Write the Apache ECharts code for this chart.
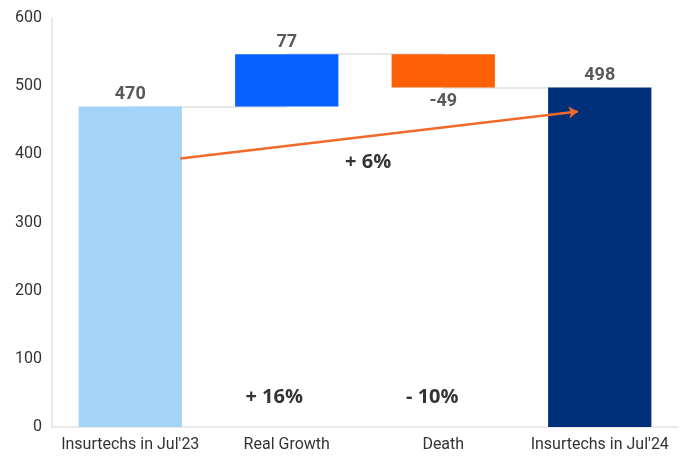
<!DOCTYPE html>
<html>
<head>
<meta charset="utf-8">
<script src="https://cdn.jsdelivr.net/npm/echarts@6/dist/echarts.min.js"></script>
<style>
  html, body { margin: 0; padding: 0; background: #fff; }
  #chart { width: 686px; height: 457px; }
</style>
</head>
<body>
<div id="chart"></div>
<script>
// Waterfall: insurtech count, July 2023 -> July 2024
const categories = ["Insurtechs in Jul'23", 'Real Growth', 'Death', "Insurtechs in Jul'24"];
const steps = [470, 77, -49, 498];          // start, change, change, end total
const kinds = ['total', 'delta', 'delta', 'total'];
const barColors = ['#a3d3f6', '#0560fd', '#fe6005', '#00307a'];
const yTicks = [0, 100, 200, 300, 400, 500, 600];

// Percentage annotations: [x (category units), y (value), text]
const pctNotes = [
  [0.92, 43, '+ 16%'],
  [1.93, 43, '- 10%'],
  [1.52, 389, '+ 6%']
];
// Overall-change arrow: from Jul'23 bar to Jul'24 bar
const arrowPath = [[0.32, 394], [2.86, 463]];

// Base / visible segment of each floating bar, plus running level after it
const bases = [], heights = [], levels = [];
let running = 0;
steps.forEach((v, i) => {
  if (kinds[i] === 'total') {
    bases.push(0); heights.push(v); running = v;
  } else {
    const next = running + v;
    bases.push(Math.min(running, next));
    heights.push(Math.abs(v));
    running = next;
  }
  levels.push(running);
});
// Gray connectors joining each bar to the next at the running level
const connData = levels.slice(0, -1).map((lvl, i) => ({ coords: [[i, lvl], [i + 1, lvl]] }));

const chart = echarts.init(document.getElementById('chart'));
chart.setOption({
  animation: false,
  grid: { left: 52, right: 8, top: 18, bottom: 30 },
  xAxis: [
    {
      type: 'category',
      data: categories,
      axisLine: { lineStyle: { color: '#e3e3e3', width: 1.5 } },
      axisTick: { show: false },
      axisLabel: { interval: 0, color: '#333', fontFamily: 'Roboto', fontSize: 16, margin: 10 }
    },
    { type: 'value', min: -0.5, max: 3.5, show: false }
  ],
  yAxis: {
    type: 'value',
    min: yTicks[0],
    max: yTicks[yTicks.length - 1],
    interval: 100,
    axisLine: { show: true, onZero: false, lineStyle: { color: '#e3e3e3', width: 1.5 } },
    axisTick: { show: false },
    splitLine: { show: false },
    axisLabel: { color: '#333', fontFamily: 'Roboto', fontSize: 16, margin: 10 }
  },
  series: [
    {
      name: 'connector',
      type: 'lines',
      coordinateSystem: 'cartesian2d',
      xAxisIndex: 1,
      z: 1,
      silent: true,
      lineStyle: { color: '#e8e8e8', width: 2, opacity: 1 },
      data: connData
    },
    {
      name: 'base',
      type: 'bar',
      stack: 'wf',
      barWidth: '66%',
      itemStyle: { color: 'transparent' },
      data: bases,
      z: 2
    },
    {
      name: 'value',
      type: 'bar',
      stack: 'wf',
      barWidth: '66%',
      z: 3,
      data: heights.map((h, i) => ({
        value: h,
        itemStyle: { color: barColors[i] },
        label: {
          show: true,
          position: steps[i] < 0 ? 'bottom' : 'top',
          distance: steps[i] < 0 ? 5 : 3,
          formatter: String(steps[i]),
          color: '#595959',
          fontFamily: 'Roboto',
          fontWeight: 'bold',
          fontSize: 18
        }
      }))
    },
    {
      name: 'arrow',
      type: 'lines',
      coordinateSystem: 'cartesian2d',
      xAxisIndex: 1,
      z: 5,
      symbol: ['none', 'arrow'],
      symbolSize: 9,
      lineStyle: { color: '#f2692a', width: 2.5, opacity: 1 },
      data: [{ coords: arrowPath }]
    },
    {
      name: 'notes',
      type: 'scatter',
      xAxisIndex: 1,
      symbolSize: 0,
      z: 6,
      data: pctNotes.map(n => ({ value: [n[0], n[1]], text: n[2] })),
      label: {
        show: true,
        position: 'inside',
        formatter: p => p.data.text,
        color: '#000',
        fontFamily: 'Open Sans',
        fontWeight: 'bold',
        fontSize: 20
      }
    }
  ]
});
</script>
</body>
</html>
